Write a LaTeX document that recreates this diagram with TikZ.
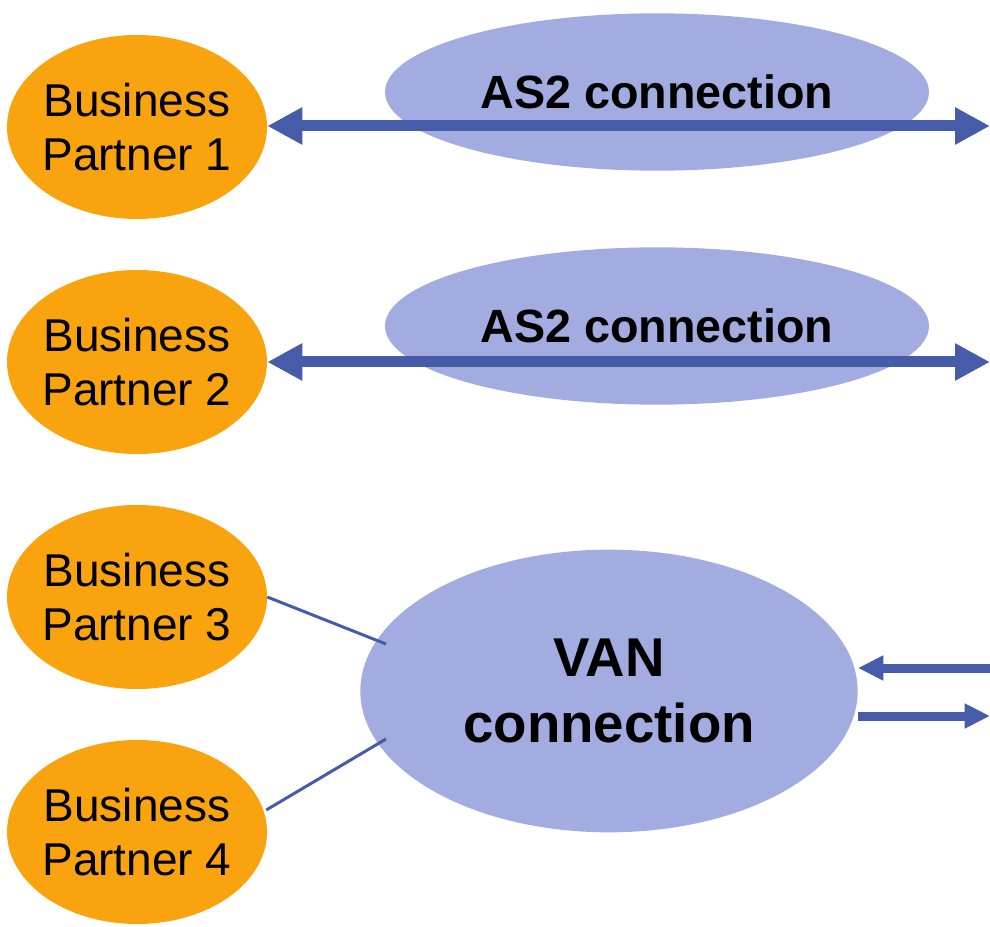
\documentclass[tikz,border=0pt]{standalone}
\usepackage{fontspec}
\setmainfont{Liberation Sans}
\usetikzlibrary{shapes.geometric,arrows.meta}
\definecolor{bporange}{RGB}{249,163,14}
\definecolor{linkblue}{RGB}{162,172,224}
\definecolor{wireblue}{RGB}{70,92,168}

\begin{document}
\begin{tikzpicture}[x=0.75pt,y=-0.75pt,
  partnernode/.style={ellipse, fill=bporange, minimum width=195pt, minimum height=138pt,
    inner sep=-20pt, align=center, font=\fontsize{34.5}{41}\selectfont},
  as2node/.style={ellipse, fill=linkblue, minimum width=408pt, minimum height=118pt,
    inner sep=0pt, font=\fontsize{35}{42}\selectfont\bfseries},
  vannode/.style={ellipse, fill=linkblue, minimum width=373pt, minimum height=212pt,
    inner sep=0pt, align=center, font=\fontsize{41}{49}\selectfont\bfseries},
  bigarrow/.style={draw=wireblue, line width=8.25pt,
    arrows={Triangle[length=26.25pt,width=26.25pt,fill=wireblue]-Triangle[length=26.25pt,width=26.25pt,fill=wireblue]}},
  smallarrow/.style={draw=wireblue, line width=6.75pt,
    -{Triangle[length=19pt,width=17.5pt,fill=wireblue]}},
  feedline/.style={draw=wireblue, line width=2.25pt}
]
\useasboundingbox (0,0) rectangle (990,927);

% connection ellipses
\node[as2node] (as1) at (657,92) {AS2 connection};
\node[as2node] (as2) at (657,326) {AS2 connection};
\node[vannode] (van) at (609,691) {VAN\\connection};

% partners
\node[partnernode] (bp1) at (137,127) {Business\\Partner 1};
\node[partnernode] (bp2) at (137,362) {Business\\Partner 2};
\node[partnernode] (bp3) at (137,597) {Business\\Partner 3};
\node[partnernode] (bp4) at (137,832) {Business\\Partner 4};

% outgoing ends at the right border
\coordinate (out1) at (990,126);
\coordinate (out2) at (990,362);
\coordinate (vanin) at (990,668);
\coordinate (vanout) at (990,716);

% direct AS2 links
\draw[bigarrow] (bp1.east |- out1) -- (out1);
\draw[bigarrow] (bp2.east |- out2) -- (out2);

% VAN traffic
\draw[smallarrow] (vanin) -- (van.east |- vanin);
\draw[smallarrow] (van.east |- vanout) -- (vanout);

% partners feeding the VAN
\draw[feedline] (bp3.east) -- ([shift={(-223,-47)}]van.center);
\draw[feedline] ([shift={(-1,-22)}]bp4.east) -- ([shift={(-223,48)}]van.center);
\end{tikzpicture}
\end{document}
